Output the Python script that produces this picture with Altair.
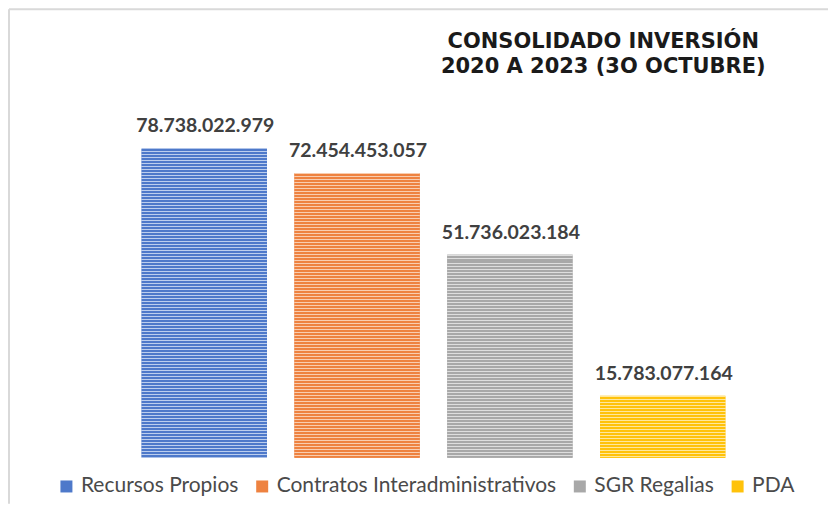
import altair as alt
import pandas as pd

# ---- data ----
categories = ["Recursos Propios", "Contratos Interadministrativos", "SGR Regalias", "PDA"]
values = [78738022979, 72454453057, 51736023184, 15783077164]
base_colors = ["#4E79CA", "#EE8240", "#A8A8A8", "#FFC20A"]
light_colors = ["#BCCEEE", "#F9CDB0", "#DEDEDE", "#FFE79C"]
title_lines = ["CONSOLIDADO INVERSIÓN", "2020 A 2023 (3O OCTUBRE)"]

labels = [f"{v:,}".replace(",", ".") for v in values]
df = pd.DataFrame({"cat": categories, "val": values, "label": labels})

W, H = 612, 354
YMAX = 90e9
PITCH = 3.0   # stripe period in pixels
LIGHT = 1.0   # light line thickness in pixels

x_enc = alt.X("cat:N", sort=categories, axis=None,
              scale=alt.Scale(paddingInner=0.18, paddingOuter=0.09))
y_enc = alt.Y("val:Q", axis=None, scale=alt.Scale(domain=[0, YMAX], nice=False, zero=True))


def stripes(dark, light, h):
    """Horizontal stripe fill with a constant pixel period for a bar of h px."""
    stops = []
    p = 0.0
    while p < h:
        a = p / h
        b = min((p + LIGHT) / h, 1.0)
        c = min((p + PITCH) / h, 1.0)
        stops += [
            alt.GradientStop(color=light, offset=a),
            alt.GradientStop(color=light, offset=b),
            alt.GradientStop(color=dark, offset=b),
            alt.GradientStop(color=dark, offset=c),
        ]
        p += PITCH
    return alt.Gradient(gradient="linear", stops=stops, x1=0, x2=0, y1=0, y2=1)


frame_df = pd.DataFrame({"k": [0]})
frame_top = alt.Chart(frame_df).mark_rule(color="#D9D9D9", strokeWidth=2).encode(
    x=alt.value(-119), x2=alt.value(701), y=alt.value(-95)
)
frame_left = alt.Chart(frame_df).mark_rule(color="#D9D9D9", strokeWidth=2).encode(
    x=alt.value(-119), y=alt.value(-95), y2=alt.value(400)
)

base = alt.Chart(df).mark_bar().encode(
    x=x_enc,
    y=y_enc,
    color=alt.Color(
        "cat:N",
        sort=categories,
        scale=alt.Scale(domain=categories, range=base_colors),
        legend=alt.Legend(
            title=None,
            orient="none",
            legendX=-72,
            legendY=372,
            direction="horizontal",
            columns=4,
            symbolType="square",
            symbolSize=144,
            symbolStrokeWidth=0,
            labelFont="Lato",
            labelFontSize=21,
            labelColor="#4A4A4A",
            labelOffset=4,
            columnPadding=13,
            padding=0,
            labelLimit=400,
        ),
    ),
)

stripe_layers = []
for cat, v, d, l in zip(categories, values, base_colors, light_colors):
    h = v / YMAX * H
    stripe_layers.append(
        alt.Chart(df).transform_filter(alt.datum.cat == cat)
        .mark_bar(fill=stripes(d, l, h), strokeWidth=0)
        .encode(x=x_enc, y=y_enc)
    )

text = alt.Chart(df).mark_text(
    font="Lato", fontWeight="bold", fontSize=19.5, color="#404040",
    baseline="alphabetic", dy=-16, dx=1
).encode(x=x_enc, y=y_enc, text="label:N")

chart = alt.layer(frame_top, frame_left, base, *stripe_layers, text).properties(
    width=W,
    height=H,
    padding=0,
    title=alt.TitleParams(
        text=title_lines,
        font="DejaVu Sans",
        fontWeight="bold",
        fontSize=21,
        color="#1A1A1A",
        anchor="middle",
        frame="group",
        dx=170,
        dy=86,
        offset=0,
        baseline="alphabetic",
        lineHeight=25,
    ),
).configure_view(stroke=None)

chart.save("out.html", embed_options={"renderer": "svg", "actions": False})
